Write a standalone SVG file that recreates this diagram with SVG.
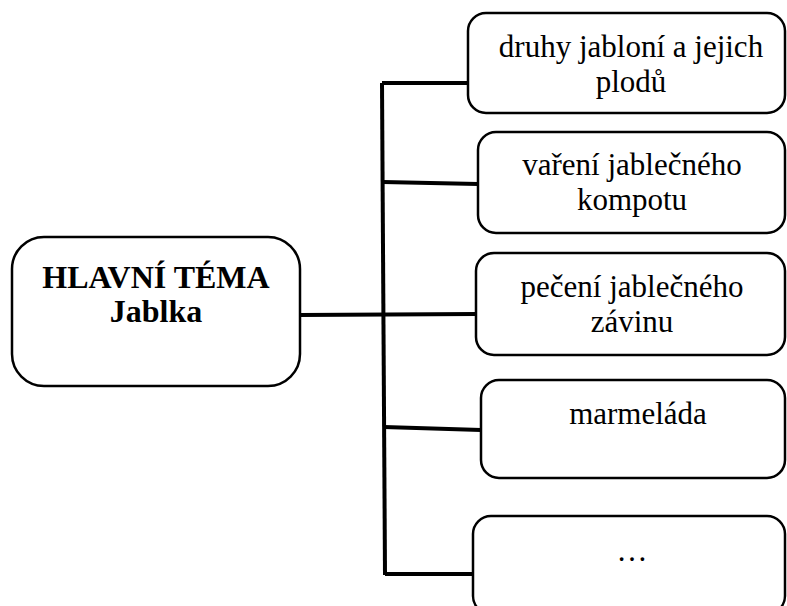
<svg xmlns="http://www.w3.org/2000/svg" width="787" height="606" viewBox="0 0 787 606">
<style>
.box{fill:#fff;stroke:#000;stroke-width:2.5}
text{font-family:'Liberation Serif','DejaVu Serif',serif;font-size:31px;text-anchor:middle;fill:#000}
.b{font-weight:bold;font-size:32px}
.c{stroke:#000;stroke-width:4;fill:none}
</style>
<rect width="787" height="606" fill="#fff"/>
<g id="connectors">
<path class="c" d="M382 83 L385 575"/>
<path class="c" d="M382 83 L468 83"/>
<path class="c" d="M383 182 L478 184"/>
<path class="c" d="M300 315 L476 314"/>
<path class="c" d="M384 427 L481 430"/>
<path class="c" d="M385 574 L473 574"/>
</g>
<g id="main">
<rect class="box" x="12" y="237" width="288" height="149" rx="32"/>
<text class="b" x="156" y="288">HLAVNÍ TÉMA</text>
<text class="b" x="156" y="322">Jablka</text>
</g>
<g id="n1">
<rect class="box" x="468" y="13" width="317" height="100" rx="18"/>
<text x="631" y="57">druhy jabloní a jejich</text>
<text x="631" y="92">plodů</text>
</g>
<g id="n2">
<rect class="box" x="478" y="132" width="307" height="101" rx="18"/>
<text x="632" y="175">vaření jablečného</text>
<text x="632" y="210">kompotu</text>
</g>
<g id="n3">
<rect class="box" x="476" y="253" width="309" height="102" rx="18"/>
<text x="632" y="297">pečení jablečného</text>
<text x="632" y="332">závinu</text>
</g>
<g id="n4">
<rect class="box" x="481" y="380" width="304" height="98" rx="18"/>
<text x="638" y="424">marmeláda</text>
</g>
<g id="n5">
<rect class="box" x="473" y="516" width="312" height="98" rx="18"/>
<text x="632" y="561">…</text>
</g>
</svg>
